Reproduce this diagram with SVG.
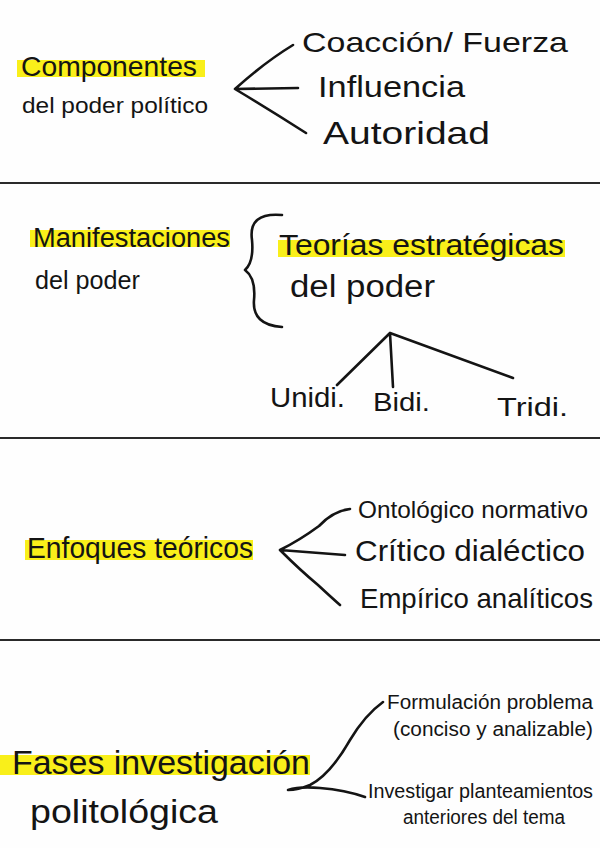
<svg xmlns="http://www.w3.org/2000/svg" width="600" height="848" viewBox="0 0 600 848">
<style>
.t{font-family:"Liberation Sans","DejaVu Sans",sans-serif;fill:#141414}
.hl{fill:#f9ef1a}
.ln{fill:none;stroke:#141414;stroke-width:2.6;stroke-linecap:round;stroke-linejoin:round}
.sep{stroke:#2a2a2a;stroke-width:2}
</style>
<rect width="600" height="848" fill="#fefefe"/>
<g id="separators">
<line class="sep" x1="0" y1="183" x2="600" y2="183"/>
<line class="sep" x1="0" y1="438" x2="600" y2="438"/>
<line class="sep" x1="0" y1="640" x2="600" y2="640"/>
</g>
<g id="connectors">
<path class="ln" d="M293,45 Q265,62 235,89 L298,88 M235,89 Q270,110 306,133"/>
<path class="ln" d="M282,215 Q248,212 252,240 Q254,262 245,270 Q256,278 254,300 Q252,325 282,327"/>
<path class="ln" d="M337,385 L390,333 L393,387 M390,333 L513,378"/>
<path class="ln" d="M350,509 Q333,511 319,526 Q300,540 280,550 L345,555 M280,550 Q300,570 318,585 Q332,598 340,605"/>
<path class="ln" d="M383,702 Q365,715 350,740 Q330,775 310,785 Q298,790 288,790 Q300,786 320,788 Q345,790 365,797"/>
</g>
<g id="componentes">
<rect class="hl" x="17" y="60" width="188" height="17"/>
<text class="t" x="21" y="76" font-size="28" textLength="176" lengthAdjust="spacingAndGlyphs">Componentes</text>
<text class="t" x="22" y="113" font-size="22" textLength="186" lengthAdjust="spacingAndGlyphs">del poder político</text>
</g>
<g id="coaccion"><text class="t" x="302" y="52" font-size="28" textLength="266" lengthAdjust="spacingAndGlyphs">Coacción/ Fuerza</text></g>
<g id="influencia"><text class="t" x="318" y="97" font-size="30" textLength="147" lengthAdjust="spacingAndGlyphs">Influencia</text></g>
<g id="autoridad"><text class="t" x="323" y="144" font-size="32" textLength="167" lengthAdjust="spacingAndGlyphs">Autoridad</text></g>
<g id="manifestaciones">
<rect class="hl" x="30" y="230" width="200" height="17"/>
<text class="t" x="33" y="247" font-size="27" textLength="197" lengthAdjust="spacingAndGlyphs">Manifestaciones</text>
<text class="t" x="35" y="289" font-size="25" textLength="105" lengthAdjust="spacingAndGlyphs">del poder</text>
</g>
<g id="teorias">
<rect class="hl" x="278" y="240" width="287" height="17"/>
<text class="t" x="279" y="255" font-size="29" textLength="285" lengthAdjust="spacingAndGlyphs">Teorías estratégicas</text>
<text class="t" x="290" y="297" font-size="31" textLength="145" lengthAdjust="spacingAndGlyphs">del poder</text>
</g>
<g id="unidi"><text class="t" x="270" y="407" font-size="27" textLength="75" lengthAdjust="spacingAndGlyphs">Unidi.</text></g>
<g id="bidi"><text class="t" x="373" y="411" font-size="26" textLength="57" lengthAdjust="spacingAndGlyphs">Bidi.</text></g>
<g id="tridi"><text class="t" x="497" y="416" font-size="26" textLength="71" lengthAdjust="spacingAndGlyphs">Tridi.</text></g>
<g id="enfoques">
<rect class="hl" x="25" y="540" width="228" height="20"/>
<text class="t" x="27" y="558" font-size="30" textLength="226" lengthAdjust="spacingAndGlyphs">Enfoques teóricos</text>
</g>
<g id="ontologico"><text class="t" x="358" y="518" font-size="24" textLength="230" lengthAdjust="spacingAndGlyphs">Ontológico normativo</text></g>
<g id="critico"><text class="t" x="355" y="561" font-size="29" textLength="230" lengthAdjust="spacingAndGlyphs">Crítico dialéctico</text></g>
<g id="empirico"><text class="t" x="360" y="608" font-size="28" textLength="233" lengthAdjust="spacingAndGlyphs">Empírico analíticos</text></g>
<g id="fases">
<rect class="hl" x="0" y="755" width="310" height="20"/>
<text class="t" x="12" y="774" font-size="33" textLength="298" lengthAdjust="spacingAndGlyphs">Fases investigación</text>
<text class="t" x="30" y="823" font-size="33" textLength="188" lengthAdjust="spacingAndGlyphs">politológica</text>
</g>
<g id="formulacion">
<text class="t" x="387" y="709" font-size="20" textLength="206" lengthAdjust="spacingAndGlyphs">Formulación problema</text>
<text class="t" x="393" y="736" font-size="20" textLength="200" lengthAdjust="spacingAndGlyphs">(conciso y analizable)</text>
</g>
<g id="investigar">
<text class="t" x="368" y="798" font-size="20" textLength="225" lengthAdjust="spacingAndGlyphs">Investigar planteamientos</text>
<text class="t" x="403" y="824" font-size="20" textLength="162" lengthAdjust="spacingAndGlyphs">anteriores del tema</text>
</g>
</svg>
